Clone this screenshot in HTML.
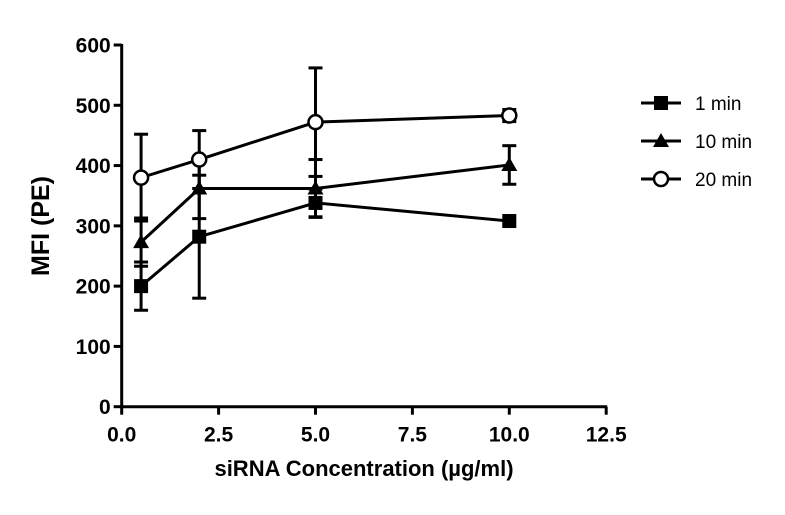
<!DOCTYPE html>
<html><head><meta charset="utf-8"><style>
body{margin:0;background:#fff;}
svg text{font-family:"Liberation Sans",Arial,sans-serif;font-weight:bold;fill:#000;}
</style></head><body>
<svg id="chart" width="785" height="510" xmlns="http://www.w3.org/2000/svg"></svg>
<script>
const xValues=[0.5,2,5,10];
const seriesNames=["1 min","10 min","20 min"];
const means1=[200,282,338,308];
const errs1=[40,102,23,0];
const means10=[273,362,362,401];
const errs10=[40,50,48,32];
const means20=[380,410,472,483];
const errs20=[72,48,90,10];
const xTicks=[0,2.5,5,7.5,10,12.5];
const yTicks=[0,100,200,300,400,500,600];

const svg=document.getElementById('chart');
const NS='http://www.w3.org/2000/svg';
const X0=121.7,X1=606.2,Y0=406.7,Y1=45;
const xs=v=>X0+v/12.5*(X1-X0);
const ys=v=>Y0-v/600*(Y0-Y1);
function mk(tag,attrs,parent){const e=document.createElementNS(NS,tag);for(const k in attrs)e.setAttribute(k,attrs[k]);(parent||svg).appendChild(e);return e;}

const axes=mk('g',{});


const ya=mk('line',{x1:X0,y1:Y1-1,x2:X0,y2:Y0+1.5,stroke:'#000','stroke-width':3},axes);


const xa=mk('line',{x1:X0-1.5,y1:Y0,x2:X1+1,y2:Y0,stroke:'#000','stroke-width':3},axes);


yTicks.forEach(t=>{
  mk('line',{x1:X0-8,y1:ys(t),x2:X0,y2:ys(t),stroke:'#000','stroke-width':3},axes);
  const tx=mk('text',{x:X0-11,y:ys(t)+7.5,'text-anchor':'end','font-size':21},axes);
  tx.textContent=t;
  
  
});
xTicks.forEach(t=>{
  mk('line',{x1:xs(t),y1:Y0,x2:xs(t),y2:Y0+8,stroke:'#000','stroke-width':3},axes);
  const tx=mk('text',{x:xs(t),y:Y0+35,'text-anchor':'middle','font-size':21},axes);
  tx.textContent=t.toFixed(1);
  
  
});
const yt=mk('text',{x:0,y:0,transform:'translate(49,226) rotate(-90)','text-anchor':'middle','font-size':25});
yt.textContent='MFI (PE)';


const xt=mk('text',{x:364,y:476,'text-anchor':'middle','font-size':22});
xt.textContent='siRNA Concentration (µg/ml)';



function marker(kind,x,y,g){
  if(kind==='square')return mk('rect',{x:x-7,y:y-7,width:14,height:14,fill:'#000'},g);
  if(kind==='triangle')return mk('polygon',{points:`${x},${y-8} ${x+8},${y+6} ${x-8},${y+6}`,fill:'#000'},g);
  return mk('circle',{cx:x,cy:y,r:7,fill:'#fff',stroke:'#000','stroke-width':2.5},g);
}
const seriesData=[[means1,errs1,'square'],[means10,errs10,'triangle'],[means20,errs20,'circle']];
seriesData.forEach(([m,e,kind],si)=>{
  const g=mk('g',{});
  
  
  xValues.forEach((xv,i)=>{
    if(e[i]>0){
      const x=xs(xv),a=ys(m[i]+e[i]),b=ys(m[i]-e[i]);
      mk('line',{x1:x,y1:a,x2:x,y2:b,stroke:'#000','stroke-width':3},g);
      mk('line',{x1:x-7,y1:a,x2:x+7,y2:a,stroke:'#000','stroke-width':3},g);
      mk('line',{x1:x-7,y1:b,x2:x+7,y2:b,stroke:'#000','stroke-width':3},g);
    }
  });
  const pl=mk('polyline',{points:xValues.map((xv,i)=>xs(xv)+','+ys(m[i])).join(' '),fill:'none',stroke:'#000','stroke-width':3},g);
  
  
  xValues.forEach((xv,i)=>{
    const mm=marker(kind,xs(xv),ys(m[i]),g);
    
    
  });
  const lg=mk('g',{});
  
  
  const ly=103+si*38;
  mk('line',{x1:641,y1:ly,x2:681,y2:ly,stroke:'#000','stroke-width':3},lg);
  marker(kind,661,ly,lg);
  const lt=mk('text',{x:695,y:ly+7,'font-size':19},lg);
  lt.setAttribute('style','font-weight:normal');
  lt.textContent=seriesNames[si];
});
</script>
</body></html>
